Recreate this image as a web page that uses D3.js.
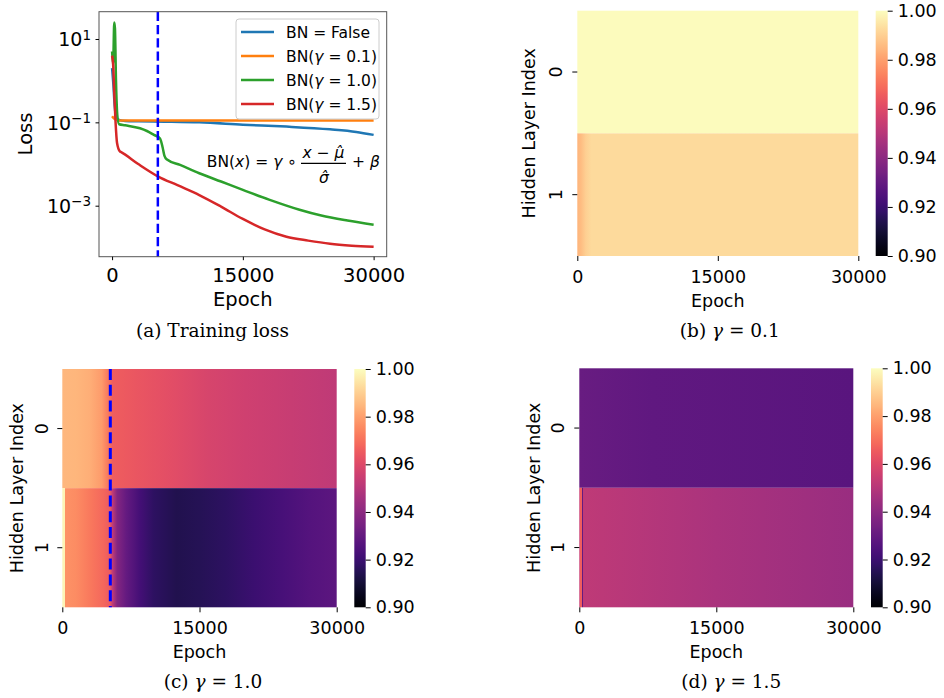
<!DOCTYPE html>
<html>
<head>
<meta charset="utf-8">
<script src="https://cdn.jsdelivr.net/npm/d3@7"></script>
<style>
body { margin: 0; background: #fff; }
text { font-family: "DejaVu Sans", sans-serif; fill: #000; }
.cap { font-family: "DejaVu Serif", serif; font-size: 18.5px; }
</style>
</head>
<body>
<div id="viz"></div>
<script>
// training loss curves, [epoch, loss]
const lossNoBN = [[0, 2], [150, 0.8], [300, 0.25], [500, 0.13], [800, 0.115], [1500, 0.108], [3000, 0.106], [6000, 0.104], [10000, 0.1], [15000, 0.088], [20000, 0.079], [25000, 0.068], [28000, 0.059], [30000, 0.05]];
const lossG01 = [[0, 0.14], [300, 0.12], [800, 0.11], [30000, 0.11]];
const lossG10 = [[0, 5], [120, 2.5], [250, 25], [330, 18], [450, 1], [600, 0.15], [800, 0.09], [1500, 0.085], [3200, 0.072], [4000, 0.062], [4800, 0.05], [5500, 0.041], [5800, 0.025], [6000, 0.016], [6300, 0.0128], [7800, 0.0095], [10000, 0.006], [12500, 0.0038], [15000, 0.0024], [18000, 0.0014], [21500, 0.0008], [24000, 0.00058], [27000, 0.00044], [30000, 0.00035]];
const lossG15 = [[0, 4], [120, 2.5], [250, 0.5], [400, 0.1], [570, 0.032], [900, 0.02], [1000, 0.0195], [3000, 0.01], [5300, 0.005], [7500, 0.0031], [10000, 0.0018], [12500, 0.00095], [15000, 0.00048], [17500, 0.00027], [20000, 0.00018], [22500, 0.000145], [25000, 0.000122], [27500, 0.00011], [30000, 0.000103]];

const lossSeries = [lossNoBN, lossG01, lossG10, lossG15];
const gammaLabels = ["0.1", "1.0", "1.5"];
const lossColors = ["#1f77b4", "#ff7f0e", "#2ca02c", "#d62728"];
const epochTicks = [0, 15000, 30000];
const lossTicks = [10, 0.1, 0.001];
const switchEpoch = 5250;

// mean ratio per hidden layer, [epoch, value]
const heatG01Row0 = [[0, 0.9993], [30000, 0.9993]];
const heatG01Row1 = [[0, 0.984], [400, 0.986], [900, 0.99], [1500, 0.9925], [30000, 0.9925]];
const heatG10Row0 = [[0, 0.985], [1500, 0.9845], [3000, 0.983], [4300, 0.979], [5000, 0.972], [5500, 0.966], [8000, 0.964], [12000, 0.961], [16000, 0.958], [20000, 0.956], [25000, 0.954], [30000, 0.952]];
const heatG10Row1 = [[0, 0.998], [280, 0.998], [300, 0.977], [1500, 0.976], [3000, 0.972], [4500, 0.968], [5200, 0.965], [5500, 0.952], [6000, 0.938], [7000, 0.93], [8500, 0.922], [10000, 0.917], [12500, 0.914], [15000, 0.915], [18000, 0.917], [21000, 0.92], [24000, 0.923], [27000, 0.926], [30000, 0.928]];
const heatG15Row0 = [[0, 0.931], [8000, 0.929], [30000, 0.927]];
const heatG15Row1 = [[0, 0.955], [120, 0.955], [130, 0.966], [260, 0.966], [270, 0.93], [370, 0.93], [380, 0.952], [15000, 0.947], [30000, 0.943]];
const colorTicks = [0.90, 0.92, 0.94, 0.96, 0.98, 1.00];

const W = 944, H = 698;
const svg = d3.select("#viz").append("svg").attr("width", W).attr("height", H);
svg.append("rect").attr("width", W).attr("height", H).attr("fill", "#fff");
const defs = svg.append("defs");

// ---------- (a) training loss ----------
const A = {left: 99, right: 386.7, top: 11.7, bottom: 256.7};
const xA = d3.scaleLinear().domain([-1500, 31500]).range([A.left, A.right]);
const yA = d3.scaleLog().domain([10 ** -4.224, 10 ** 1.655]).range([A.bottom, A.top]);

defs.append("clipPath").attr("id", "clipA").append("rect")
    .attr("x", A.left).attr("y", A.top)
    .attr("width", A.right - A.left).attr("height", A.bottom - A.top);

const gA = svg.append("g");
const line = d3.line().curve(d3.curveMonotoneX).x(d => xA(d[0])).y(d => yA(d[1]));

gA.selectAll(".loss")
    .data(lossSeries)
    .join("path")
        .attr("class", "loss")
        .attr("d", line)
        .attr("fill", "none")
        .attr("stroke", (d, i) => lossColors[i])
        .attr("stroke-width", 2.5)
        .attr("stroke-linejoin", "round")
        .attr("clip-path", "url(#clipA)");

gA.append("line")
    .attr("x1", xA(switchEpoch)).attr("x2", xA(switchEpoch))
    .attr("y1", A.top).attr("y2", A.bottom)
    .attr("stroke", "#0000ff").attr("stroke-width", 2.5)
    .attr("stroke-dasharray", "9.25,4");

gA.append("rect")
    .attr("x", A.left).attr("y", A.top)
    .attr("width", A.right - A.left).attr("height", A.bottom - A.top)
    .attr("fill", "none").attr("stroke", "#555").attr("stroke-width", 1);

const xAxisA = gA.append("g")
    .attr("transform", `translate(0,${A.bottom})`)
    .call(d3.axisBottom(xA).tickValues(epochTicks).tickSize(3.5).tickFormat(d3.format("d")));
xAxisA.select(".domain").remove();
xAxisA.selectAll("text").attr("y", 25).attr("dy", null).style("font-size", "19.5px");

const yAxisA = gA.append("g")
    .attr("transform", `translate(${A.left},0)`)
    .call(d3.axisLeft(yA).tickValues(lossTicks).tickSize(3.5).tickFormat(""));
yAxisA.select(".domain").remove();
yAxisA.selectAll(".tick").each(function(d) {
    const e = Math.round(Math.log10(d));
    const t = d3.select(this).select("text")
        .attr("x", -8).attr("dy", "0.36em")
        .attr("text-anchor", "end").style("font-size", "19px");
    t.text(null);
    t.append("tspan").text("10");
    t.append("tspan").attr("dy", "-0.5em").style("font-size", "13.5px")
        .text(e < 0 ? "\u2212" + Math.abs(e) : e);
});

gA.append("text")
    .attr("transform", `translate(32,134) rotate(-90)`)
    .attr("text-anchor", "middle").style("font-size", "19.5px")
    .text("Loss");
gA.append("text")
    .attr("x", xA(15000)).attr("y", A.bottom + 49)
    .attr("text-anchor", "middle").style("font-size", "19.5px")
    .text("Epoch");

// legend
const leg = gA.append("g").attr("transform", "translate(236,19)");
leg.append("rect")
    .attr("width", 143).attr("height", 100).attr("rx", 3)
    .attr("fill", "#fff").attr("fill-opacity", 0.85)
    .attr("stroke", "#ccc");
lossColors.forEach((c, i) => {
    const y = 13 + i * 24;
    leg.append("line").attr("x1", 5).attr("x2", 38).attr("y1", y).attr("y2", y)
        .attr("stroke", c).attr("stroke-width", 2.5);
    const t = leg.append("text").attr("x", 50).attr("y", y).attr("dy", "0.36em")
        .style("font-size", "15.5px");
    if (i === 0) {
        t.text("BN = False");
    } else {
        t.append("tspan").text("BN(");
        t.append("tspan").style("font-style", "italic").text("\u03b3");
        t.append("tspan").text(" = " + gammaLabels[i - 1] + ")");
    }
});

// formula
const fs = "15.5px";
const f1 = gA.append("text").attr("x", 297).attr("y", 166.7)
    .attr("text-anchor", "end").style("font-size", fs);
f1.append("tspan").text("BN(");
f1.append("tspan").style("font-style", "italic").text("x");
f1.append("tspan").text(") = ");
f1.append("tspan").style("font-style", "italic").text("\u03b3");
f1.append("tspan").text(" \u2218");
const f2 = gA.append("text").attr("x", 323.5).attr("y", 158.3)
    .attr("text-anchor", "middle").style("font-size", fs);
f2.append("tspan").style("font-style", "italic").text("x");
f2.append("tspan").text(" \u2212 ");
f2.append("tspan").style("font-style", "italic").text("\u03bc\u0302");
gA.append("line").attr("x1", 301).attr("x2", 346).attr("y1", 163.3).attr("y2", 163.3)
    .attr("stroke", "#000").attr("stroke-width", 1.2);
gA.append("text").attr("x", 324).attr("y", 183.3)
    .attr("text-anchor", "middle").style("font-size", fs)
    .style("font-style", "italic").text("\u03c3\u0302");
const f3 = gA.append("text").attr("x", 352).attr("y", 166.7).style("font-size", fs);
f3.append("tspan").text("+ ");
f3.append("tspan").style("font-style", "italic").text("\u03b2");

function caption(x, y, tag, gamma) {
    const t = svg.append("text").attr("class", "cap")
        .attr("x", x).attr("y", y).attr("text-anchor", "middle");
    if (gamma === undefined) {
        t.text(tag);
    } else {
        t.append("tspan").text(tag + " ");
        t.append("tspan").style("font-style", "italic").text("\u03b3");
        t.append("tspan").text(" = " + gamma);
    }
}
caption(212.5, 337, "(a) Training loss");

// ---------- heatmaps ----------
const color = d3.scaleSequential(d3.interpolateMagma).domain([0.9, 1.0]);

// colorbar gradient
const cbGrad = defs.append("linearGradient").attr("id", "cbGrad")
    .attr("x1", 0).attr("y1", 1).attr("x2", 0).attr("y2", 0);
d3.range(0, 1.0001, 0.02).forEach(t => {
    cbGrad.append("stop").attr("offset", t).attr("stop-color", d3.interpolateMagma(t));
});

let gradId = 0;
function heatmap(p) {
    const g = svg.append("g");
    const x = d3.scaleLinear().domain([0, 30000]).range([p.x0, p.x1]);
    const y = d3.scaleBand().domain([0, 1]).range([p.y0, p.y1]);

    p.rows.forEach((row, r) => {
        const id = "hg" + (gradId++);
        const grad = defs.append("linearGradient").attr("id", id)
            .attr("gradientUnits", "userSpaceOnUse")
            .attr("x1", x(0)).attr("x2", x(30000)).attr("y1", 0).attr("y2", 0);
        grad.selectAll("stop")
            .data(row)
            .join("stop")
                .attr("offset", d => (x(d[0]) - p.x0) / (p.x1 - p.x0))
                .attr("stop-color", d => color(d[1]));
        g.append("rect")
            .attr("x", p.x0).attr("y", y(r))
            .attr("width", p.x1 - p.x0).attr("height", y.bandwidth())
            .attr("fill", `url(#${id})`);
    });

    if (p.dashed) {
        g.append("line")
            .attr("x1", x(switchEpoch)).attr("x2", x(switchEpoch))
            .attr("y1", p.y0).attr("y2", p.y1)
            .attr("stroke", "#0000ff").attr("stroke-width", 3)
            .attr("stroke-dasharray", "11,4.8");
    }

    const xa = g.append("g").attr("transform", `translate(0,${p.y1})`)
        .call(d3.axisBottom(x).tickValues(epochTicks).tickSize(5).tickFormat(d3.format("d")));
    xa.select(".domain").remove();
    xa.selectAll("text").attr("y", 27).attr("dy", null).style("font-size", "17.5px");

    const ya = g.append("g").attr("transform", `translate(${p.x0},0)`)
        .call(d3.axisLeft(y).tickSize(5));
    ya.select(".domain").remove();
    ya.selectAll("text")
        .attr("x", null).attr("dy", null)
        .attr("text-anchor", "middle")
        .attr("transform", `translate(${-p.tickOff},0) rotate(-90)`)
        .style("font-size", "17.5px");

    g.append("text")
        .attr("transform", `translate(${p.labelX},${(p.y0 + p.y1) / 2}) rotate(-90)`)
        .attr("text-anchor", "middle").style("font-size", "17.5px")
        .text("Hidden Layer Index");
    g.append("text")
        .attr("x", x(15000)).attr("y", p.y1 + 51)
        .attr("text-anchor", "middle").style("font-size", "17.5px")
        .text("Epoch");

    // colorbar
    const cy = d3.scaleLinear().domain([0.9, 1.0]).range([p.y1, p.y0]);
    g.append("rect")
        .attr("x", p.cb0).attr("y", p.y0)
        .attr("width", p.cb1 - p.cb0).attr("height", p.y1 - p.y0)
        .attr("fill", "url(#cbGrad)");
    const ca = g.append("g").attr("transform", `translate(${p.cb1},0)`)
        .call(d3.axisRight(cy).tickValues(colorTicks).tickSize(5).tickPadding(5).tickFormat(d3.format(".2f")));
    ca.select(".domain").remove();
    ca.selectAll("text").style("font-size", "17.5px");

    caption((p.x0 + p.x1) / 2 + p.capShift, p.capY, p.tag, p.gamma);
}

heatmap({x0: 577.3, x1: 858.3, y0: 10.7, y1: 256, rows: [heatG01Row0, heatG01Row1],
    cb0: 875.7, cb1: 887.7, tickOff: 15.6, labelX: 535, capShift: 12, capY: 337, tag: "(b)", gamma: "0.1"});
heatmap({x0: 62.3, x1: 336.7, y0: 369, y1: 607.3, rows: [heatG10Row0, heatG10Row1], dashed: true,
    cb0: 354.3, cb1: 365.7, tickOff: 14, labelX: 23, capShift: 13.5, capY: 688, tag: "(c)", gamma: "1.0"});
heatmap({x0: 579.3, x1: 853.3, y0: 368.3, y1: 607.3, rows: [heatG15Row0, heatG15Row1],
    cb0: 871, cb1: 882.7, tickOff: 15.3, labelX: 540, capShift: 15, capY: 688, tag: "(d)", gamma: "1.5"});
</script>
</body>
</html>
